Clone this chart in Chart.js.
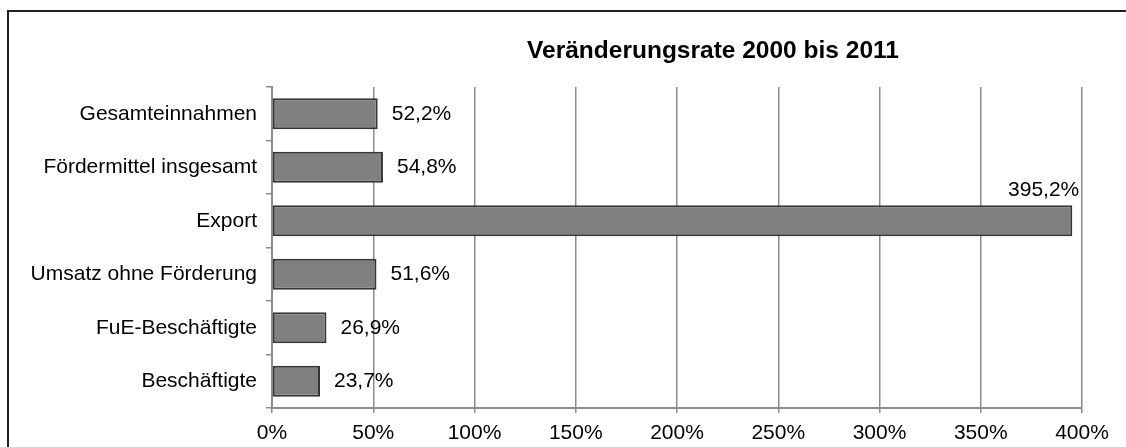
<!DOCTYPE html>
<html>
<head>
<meta charset="utf-8">
<script src="https://cdn.jsdelivr.net/npm/chart.js@4"></script>
<style>
  html, body { margin: 0; padding: 0; background: #fff; }
  #wrap { position: relative; width: 1126px; height: 447px; overflow: hidden; }
  #rahmen { position: absolute; left: 7px; top: 10px; width: 1140px; height: 460px; border: 2px solid #222; box-sizing: border-box; }
  canvas { position: absolute; left: 0; top: 0; }
</style>
</head>
<body>
<div id="wrap">
  <div id="rahmen"></div>
  <canvas id="grafica" width="1126" height="447"></canvas>
</div>
<script>
// Datos del gráfico
const titulo = 'Veränderungsrate 2000 bis 2011';
const categorias = ['Gesamteinnahmen', 'Fördermittel insgesamt', 'Export', 'Umsatz ohne Förderung', 'FuE-Beschäftigte', 'Beschäftigte'];
const valores = [52.2, 54.8, 395.2, 51.6, 26.9, 23.7];
const ejeMin = 0;
const ejeMax = 400;
const ejePaso = 50;

const formato = v => v.toFixed(1).replace('.', ',') + '%';

// Plugin para el título y las etiquetas de valores
const etiquetas = {
  id: 'etiquetas',
  afterDatasetsDraw(chart) {
    const ctx = chart.ctx;
    const meta = chart.getDatasetMeta(0);
    ctx.save();
    ctx.font = '21px "Liberation Sans", Arial, sans-serif';
    ctx.fillStyle = '#000';
    ctx.textBaseline = 'middle';
    meta.data.forEach((bar, i) => {
      const v = valores[i];
      if (v > 300) {
        ctx.textAlign = 'right';
        ctx.fillText(formato(v), bar.x + 7, bar.y - bar.height / 2 - 15);
      } else {
        ctx.textAlign = 'left';
        ctx.fillText(formato(v), bar.x + 14, bar.y);
      }
    });
    // título
    ctx.font = 'bold 24.5px "Liberation Sans", Arial, sans-serif';
    ctx.textAlign = 'center';
    ctx.fillText(titulo, 713, 51);
    ctx.restore();
  }
};

const ctx = document.getElementById('grafica').getContext('2d');
new Chart(ctx, {
  type: 'bar',
  data: {
    labels: categorias,
    datasets: [{
      data: valores,
      backgroundColor: '#808080',
      borderColor: '#363636',
      borderWidth: 2,
      borderSkipped: false,
      barPercentage: 0.58,
      categoryPercentage: 1
    }]
  },
  options: {
    indexAxis: 'y',
    responsive: false,
    animation: false,
    layout: { padding: { top: 87, right: 44, left: 0, bottom: 0 } },
    plugins: {
      legend: { display: false },
      tooltip: { enabled: false }
    },
    scales: {
      x: {
        min: ejeMin,
        max: ejeMax,
        afterFit: s => { s.height = 39; },
        ticks: {
          stepSize: ejePaso,
          color: '#000',
          padding: 8,
          font: { family: '"Liberation Sans", Arial, sans-serif', size: 21 },
          callback: v => v + '%'
        },
        grid: { color: '#8c8c8c', lineWidth: 1.5, tickLength: 5 },
        border: { color: '#8c8c8c', width: 2 }
      },
      y: {
        afterFit: s => { s.width = 272; },
        ticks: {
          color: '#000',
          padding: 9,
          font: { family: '"Liberation Sans", Arial, sans-serif', size: 21 }
        },
        grid: { drawOnChartArea: false, color: '#8c8c8c', lineWidth: 1.5, tickLength: 6, offset: true },
        border: { color: '#8c8c8c', width: 2 }
      }
    }
  },
  plugins: [etiquetas]
});
</script>
</body>
</html>
